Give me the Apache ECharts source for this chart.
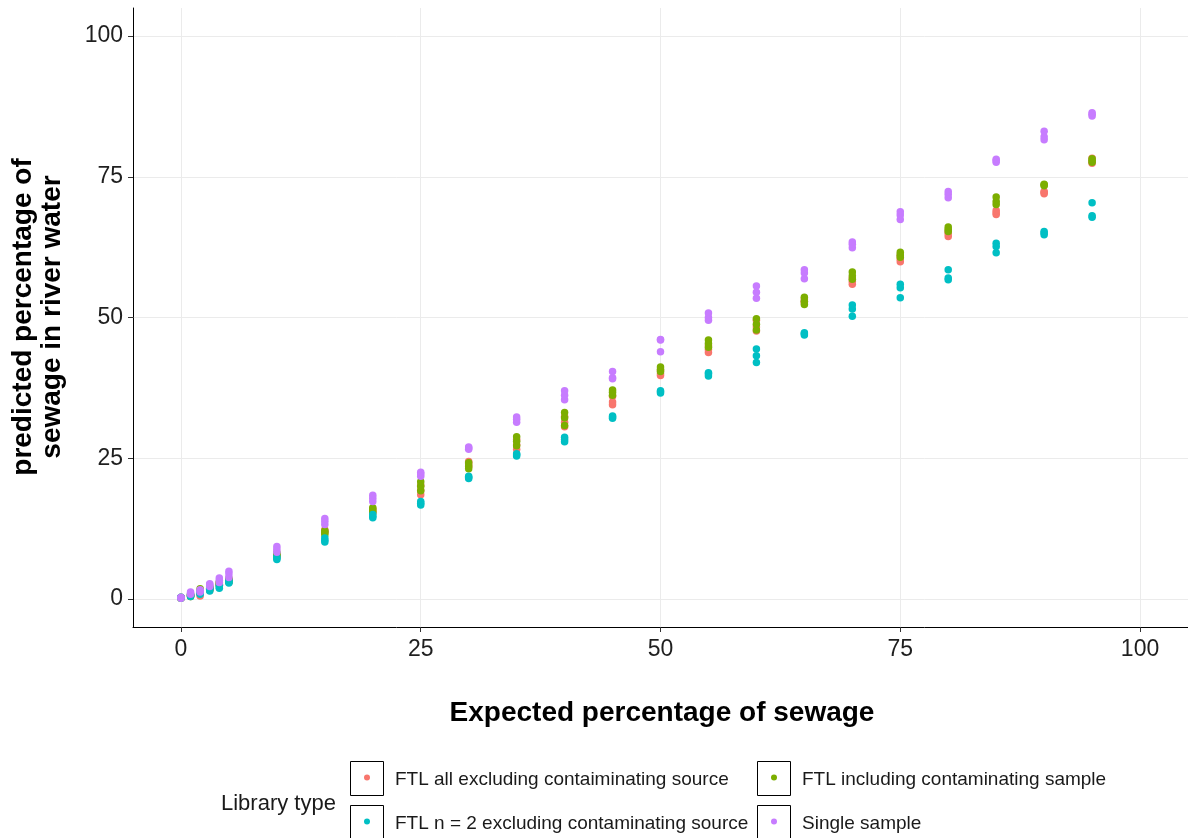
<!DOCTYPE html>
<html><head><meta charset="utf-8">
<script src="https://cdn.jsdelivr.net/npm/echarts@6/dist/echarts.min.js"></script>
<style>html,body{margin:0;padding:0;background:#fff}#c{width:1188px;height:838px}</style>
</head><body><div id="c"></div><script>
const expected = [0,1,2,3,4,5,10,15,20,25,30,35,40,45,50,55,60,65,70,75,80,85,90,95];
const xTicks = [0,25,50,75,100];
const yTicks = [0,25,50,75,100];
const seriesNames = [
  'FTL all excluding contaiminating source',
  'FTL including contaminating sample',
  'FTL n = 2 excluding contaminating source',
  'Single sample'
];
const seriesColors = ['#F8766D','#7CAE00','#00BFC4','#C77CFF'];
// replicate predictions per expected value
const ftlAll = [
  [0.1,0.2,0.2],[0.4,0.6,0.7],[0.5,0.8,1.1],[1.5,1.7,2.0],[2.4,2.6,2.8],[3.0,3.2,3.4],
  [7.4,7.6,7.8],[11.8,12.0,12.3],[15.3,15.6,16.0],[18.5,19.3,20.2],[23.5,24.0,24.4],[26.6,27.4,28.3],
  [30.6,31.4,32.4],[34.5,35.0,36.0],[39.7,40.0,40.6],[43.8,44.3,45.0],[47.6,48.3,49.5],[52.6,52.9,53.3],
  [55.9,56.4,57.0],[59.9,60.4,61.0],[64.4,64.9,65.3],[68.3,68.6,69.0],[72.0,72.2,72.4],[77.4,77.7,78.3]
];
const ftlIncluding = [
  [0.1,0.2,0.3],[0.4,0.6,0.8],[1.2,1.5,1.8],[1.6,1.9,2.2],[2.5,2.8,3.0],[3.0,3.3,3.6],
  [7.6,7.9,8.2],[11.4,11.8,12.1],[15.4,15.8,16.2],[19.2,20.0,20.8],[23.1,23.6,24.2],[27.2,28.0,28.8],
  [30.8,32.2,33.1],[36.2,36.7,37.1],[40.4,40.8,41.2],[44.7,45.4,46.0],[47.8,48.8,49.8],[52.3,52.9,53.6],
  [56.8,57.4,58.1],[60.7,61.1,61.6],[65.3,65.7,66.1],[70.1,70.6,71.4],[73.4,73.6,73.7],[77.6,77.9,78.2]
];
const ftlN2 = [
  [0.1,0.2,0.3],[0.4,0.6,0.7],[0.8,1.0,1.2],[1.4,1.7,1.9],[1.9,2.1,2.4],[2.8,3.0,3.2],
  [7.0,7.2,7.5],[10.1,10.4,10.8],[14.4,14.7,15.0],[16.7,17.0,17.3],[21.4,21.6,21.8],[25.4,25.6,25.8],
  [27.9,28.3,28.7],[32.1,32.3,32.5],[36.6,36.8,37.0],[39.6,40.0,40.2],[42.0,43.2,44.4],[46.9,47.1,47.3],
  [50.2,51.5,52.2],[53.5,55.3,55.9],[56.7,57.0,58.5],[61.5,62.6,63.2],[64.7,65.0,65.3],[67.8,68.1,70.4]
];
const singleSample = [
  [0.1,0.2,0.3],[0.8,1.0,1.2],[1.2,1.4,1.6],[2.2,2.5,2.7],[2.9,3.3,3.7],[3.8,4.4,4.9],
  [8.3,8.8,9.3],[13.2,13.8,14.3],[17.3,17.9,18.4],[21.8,22.2,22.5],[26.6,26.8,27.0],[31.4,31.9,32.3],
  [35.4,36.2,37.0],[39.1,39.3,40.4],[43.9,46.0,46.1],[49.5,50.0,50.8],[53.4,54.5,55.6],[56.9,57.9,58.5],
  [62.4,63.0,63.4],[67.4,68.2,68.8],[71.3,71.9,72.4],[77.6,77.9,78.1],[81.6,82.1,83.1],[85.8,86.1,86.4]
];
const seriesValues = [ftlAll, ftlIncluding, ftlN2, singleSample];

function toPoints(rows){
  const out = [];
  rows.forEach((reps,i)=>reps.forEach(v=>out.push([expected[i], v])));
  return out;
}
const FONT = '"Liberation Sans", Arial, sans-serif';
const drawOrder = [0,2,1,3];
const series = drawOrder.map(k=>({
  name: seriesNames[k], type:'scatter', symbol:'circle', symbolSize:7.5,
  itemStyle:{color:seriesColors[k], opacity:1},
  data: toPoints(seriesValues[k]), z: 2+k, silent:true
}));

// legend keys (box + dot + label), 2 rows x 2 columns, filled by row
const keyPos = [[350,761],[757,761],[350,805],[757,805]];
const legendGraphics = [];
seriesNames.forEach((n,k)=>{
  const p = keyPos[k];
  legendGraphics.push({type:'rect', shape:{x:p[0]+0.5, y:p[1]+0.5, width:33, height:34},
    style:{fill:'#fff', stroke:'#000', lineWidth:1}, z:10});
  legendGraphics.push({type:'circle', shape:{cx:p[0]+17, cy:p[1]+16.5, r:3},
    style:{fill:seriesColors[k]}, z:11});
  legendGraphics.push({type:'text', x:p[0]+45, y:p[1]+19,
    style:{text:n, font:'19px '+FONT, textAlign:'left', textVerticalAlign:'middle', fill:'#1a1a1a'}, z:11});
});

const axisLine = {show:true, onZero:false, lineStyle:{color:'#000', width:1}};
const tickStyle = {show:true, length:5, lineStyle:{color:'#333'}};
const splitLine = {show:true, lineStyle:{color:'#ebebeb', width:1}};
const labelStyle = {fontSize:23, color:'#1f1f1f', fontFamily:FONT};

const option = {
  animation:false,
  backgroundColor:'#fff',
  grid:{left:133, top:8, width:1057, height:619, containLabel:false},
  xAxis:{type:'value', min:-5, max:105,
    axisLine:axisLine,
    axisTick:Object.assign({}, tickStyle, {customValues:xTicks}),
    splitLine:splitLine,
    axisLabel:Object.assign({}, labelStyle, {customValues:xTicks, margin:11})
  },
  yAxis:{type:'value', min:-5, max:105,
    axisLine:axisLine,
    axisTick:Object.assign({}, tickStyle, {customValues:yTicks}),
    splitLine:splitLine,
    axisLabel:Object.assign({}, labelStyle, {customValues:yTicks, margin:10})
  },
  graphic: legendGraphics.concat([
    {type:'text', x:38, y:317, rotation:Math.PI/2,
     style:{text:'predicted percentage of\nsewage in river water', font:'bold 28px '+FONT,
       textAlign:'center', textVerticalAlign:'middle', fill:'#000', lineHeight:29}},
    {type:'text', x:662, y:713,
     style:{text:'Expected percentage of sewage', font:'bold 28px '+FONT,
       textAlign:'center', textVerticalAlign:'middle', fill:'#000'}},
    {type:'text', x:221, y:804,
     style:{text:'Library type', font:'22px '+FONT,
       textAlign:'left', textVerticalAlign:'middle', fill:'#1a1a1a'}}
  ]),
  series: series
};
const chart = echarts.init(document.getElementById('c'), null, {renderer:'canvas'});
chart.setOption(option);
</script></body></html>
